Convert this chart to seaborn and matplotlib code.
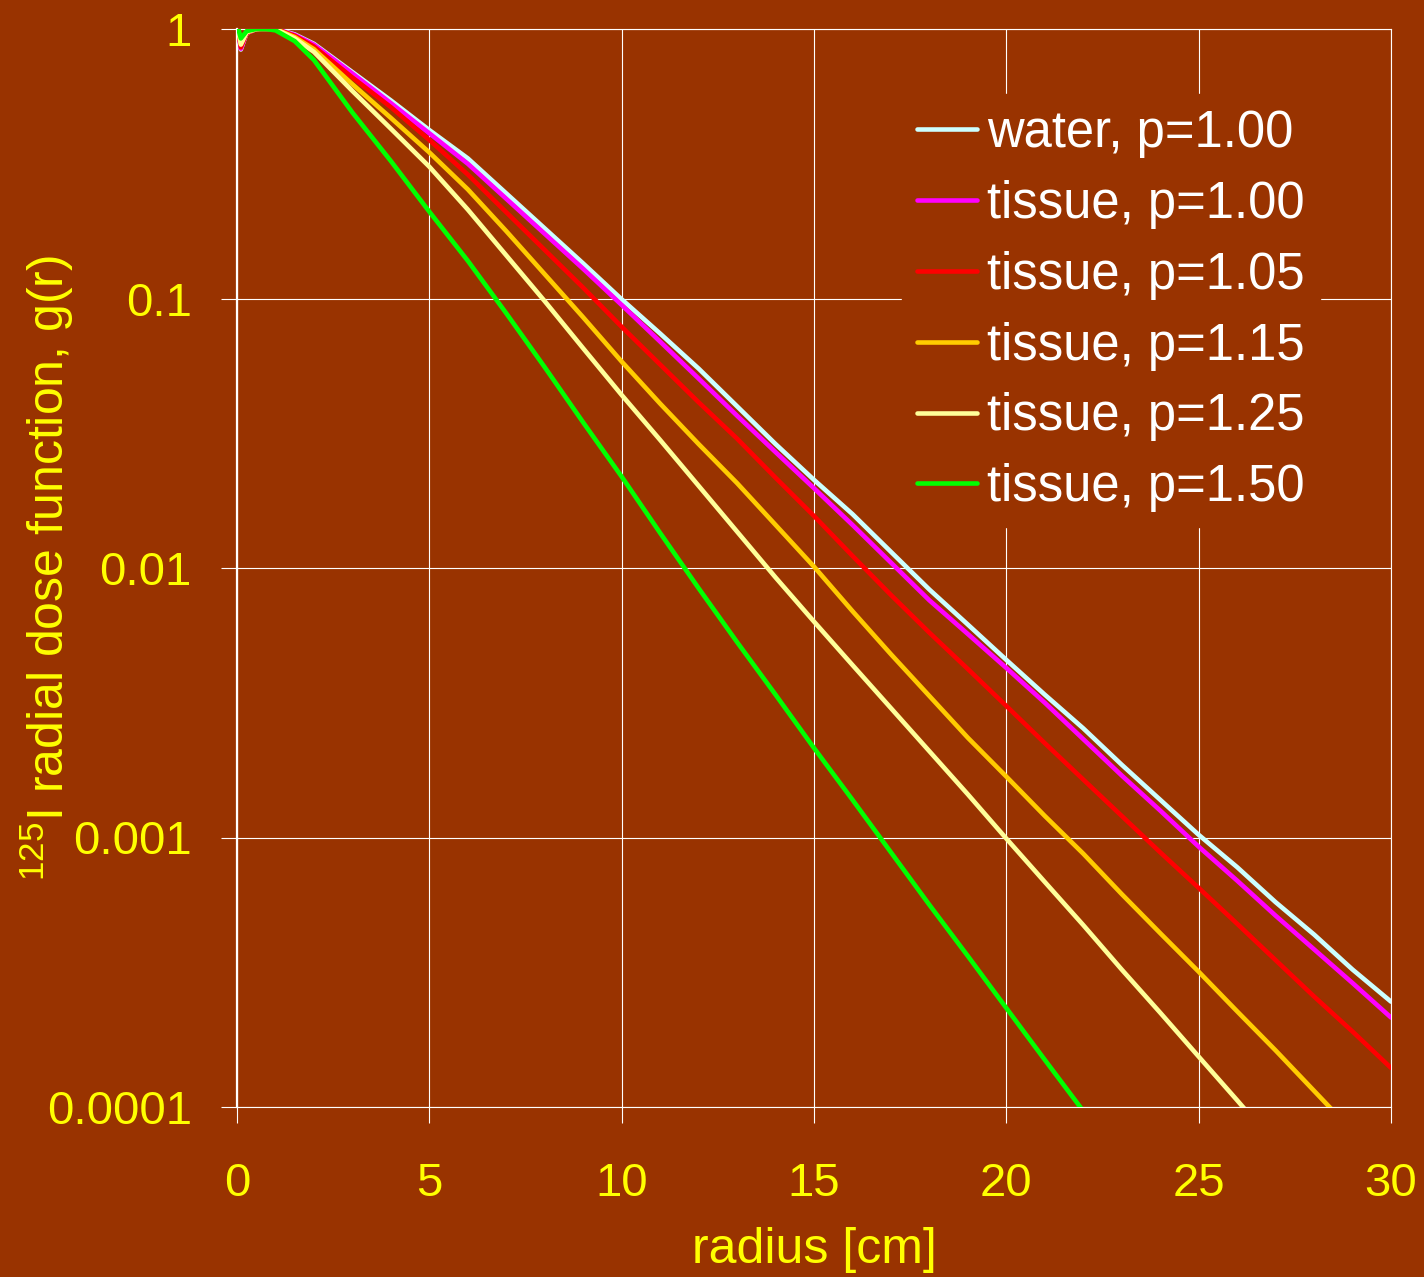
import numpy as np
import pandas as pd
import matplotlib
matplotlib.use("Agg")
import matplotlib.pyplot as plt
import seaborn as sns

# ---- data (log10 of g(r)) ----
radius = [0, 0.1, 0.25, 0.5, 0.75, 1, 1.5, 2, 3, 4, 5, 6, 7, 8, 9, 10, 11, 12, 13, 14,
          15, 16, 17, 18, 19, 20, 21, 22, 23, 24, 25, 26, 27, 28, 29, 30]

nan = np.nan
log10_g_water_100 = [0.02, -0.076, -0.015, 0.0, 0.003, 0.0, -0.02, -0.055, -0.16, -0.265,
                     -0.375, -0.48, -0.61, -0.74, -0.87, -1.003, -1.13, -1.26, -1.40, -1.54,
                     -1.673, -1.80, -1.94, -2.08, -2.21, -2.341, -2.47, -2.595, -2.73, -2.86,
                     -2.99, -3.11, -3.24, -3.36, -3.49, -3.609]
log10_g_tissue_100 = [0.02, -0.073, -0.015, 0.0, 0.003, 0.0, -0.022, -0.058, -0.165, -0.275,
                      -0.387, -0.50, -0.63, -0.76, -0.89, -1.024, -1.16, -1.297, -1.435, -1.57,
                      -1.704, -1.84, -1.98, -2.12, -2.245, -2.371, -2.50, -2.635, -2.77, -2.90,
                      -3.034, -3.16, -3.29, -3.415, -3.54, -3.668]
log10_g_tissue_105 = [0.02, -0.068, -0.015, 0.0, 0.002, 0.0, -0.025, -0.065, -0.18, -0.29,
                      -0.412, -0.54, -0.68, -0.82, -0.96, -1.105, -1.245, -1.385, -1.52, -1.665,
                      -1.807, -1.955, -2.10, -2.24, -2.375, -2.512, -2.65, -2.785, -2.92, -3.055,
                      -3.187, -3.32, -3.455, -3.59, -3.72, -3.855]
log10_g_tissue_115 = [0.02, -0.055, -0.012, 0.0, 0.002, 0.0, -0.03, -0.075, -0.205, -0.33,
                      -0.458, -0.595, -0.75, -0.91, -1.07, -1.234, -1.39, -1.54, -1.685, -1.84,
                      -1.995, -2.16, -2.32, -2.475, -2.63, -2.774, -2.92, -3.06, -3.21, -3.355,
                      -3.498, -3.645, -3.79, -3.94, -4.09, nan]
log10_g_tissue_125 = [0.02, -0.058, -0.012, 0.0, 0.0, 0.0, -0.035, -0.085, -0.23, -0.37,
                      -0.511, -0.67, -0.84, -1.01, -1.185, -1.358, -1.525, -1.695, -1.865, -2.035,
                      -2.199, -2.36, -2.52, -2.68, -2.84, -3.004, -3.165, -3.325, -3.49, -3.65,
                      -3.813, -3.975, -4.14, nan, nan, nan]
log10_g_tissue_150 = [0.02, -0.035, -0.008, 0.0, 0.0, -0.005, -0.045, -0.115, -0.31, -0.49,
                      -0.678, -0.86, -1.055, -1.255, -1.46, -1.661, -1.87, -2.075, -2.275, -2.47,
                      -2.668, -2.86, -3.055, -3.25, -3.44, -3.633, -3.825, -4.015, nan, nan,
                      nan, nan, nan, nan, nan, nan]

series_labels = ["water, p=1.00", "tissue, p=1.00", "tissue, p=1.05",
                 "tissue, p=1.15", "tissue, p=1.25", "tissue, p=1.50"]
series_logs = [log10_g_water_100, log10_g_tissue_100, log10_g_tissue_105,
               log10_g_tissue_115, log10_g_tissue_125, log10_g_tissue_150]
series_colors = ["#CCFFFF", "#FF00FF", "#FF0000", "#FFCC00", "#FFFF99", "#00FF00"]

ytick_values = [0.0001, 0.001, 0.01, 0.1, 1]
ytick_labels = ["0.0001", "0.001", "0.01", "0.1", "1"]
xtick_values = [0, 5, 10, 15, 20, 25, 30]

frames = []
for lab, lg in zip(series_labels, series_logs):
    frames.append(pd.DataFrame({"radius": radius,
                                "g": np.power(10.0, np.array(lg, dtype=float)),
                                "series": lab}))
df = pd.concat(frames, ignore_index=True).dropna()

# ---- style ----
BG = "#993300"
sns.set_style("white")
plt.rcParams["font.family"] = ["Liberation Sans", "DejaVu Sans"]
plt.rcParams["mathtext.fontset"] = "custom"
plt.rcParams["mathtext.rm"] = "Liberation Sans"
plt.rcParams["mathtext.it"] = "Liberation Sans:italic"
plt.rcParams["mathtext.bf"] = "Liberation Sans:bold"

fig = plt.figure(figsize=(14.24, 12.77), dpi=100, facecolor=BG)
ax = fig.add_axes([237 / 1424, 1 - 1107 / 1277, (1391 - 237) / 1424, (1107 - 29) / 1277])
ax.set_facecolor(BG)

sns.lineplot(data=df, x="radius", y="g", hue="series", hue_order=series_labels,
             palette=dict(zip(series_labels, series_colors)), linewidth=3.3,
             estimator=None, sort=True, ax=ax, zorder=3)

ax.set_yscale("log")
ax.set_xlim(0, 30)
ax.set_ylim(1e-4, 1)
ax.set_xticks(xtick_values)
ax.set_xticklabels([str(v) for v in xtick_values])
ax.set_yticks(ytick_values)
ax.set_yticklabels(ytick_labels)
ax.yaxis.set_minor_locator(matplotlib.ticker.NullLocator())

ax.grid(True, which="major", color="white", linewidth=0.8, zorder=1)
ax.set_axisbelow(True)
for side in ["top", "right", "bottom"]:
    ax.spines[side].set_color("white")
    ax.spines[side].set_linewidth(0.8)
ax.spines["left"].set_color("white")
ax.spines["left"].set_linewidth(1.6)

ax.tick_params(axis="x", which="major", bottom=True, direction="out", length=11.5, width=0.8,
               color="white", labelcolor="yellow", labelsize=34, pad=28)
ax.tick_params(axis="y", which="major", left=True, direction="out", length=11.5, width=0.8,
               color="white", labelcolor="yellow", labelsize=34, pad=21)

ax.set_xlabel("radius [cm]", color="yellow", fontsize=36)
ax.xaxis.set_label_coords(0.5, (1107 - 1227) / 1078)
ax.set_ylabel(r"$^{125}$I radial dose function, g(r)", color="yellow", fontsize=36)
ax.yaxis.set_label_coords((76 - 237) / 1154, 0.5)

handles, labels = ax.get_legend_handles_labels()
leg = ax.legend(handles, labels, loc="upper left",
                bbox_to_anchor=(902 / 1424, 1 - 94 / 1277), bbox_transform=fig.transFigure,
                borderaxespad=0, borderpad=0.3, frameon=True, fancybox=False,
                facecolor=BG, edgecolor=BG, framealpha=1, fontsize=36.5,
                handlelength=1.18, handletextpad=0.2, labelspacing=0.43)
for t in leg.get_texts():
    t.set_color("white")
for h in leg.get_lines():
    h.set_linewidth(3.3)
leg.set_zorder(5)

fig.savefig("out.png", dpi=100, facecolor=BG)
